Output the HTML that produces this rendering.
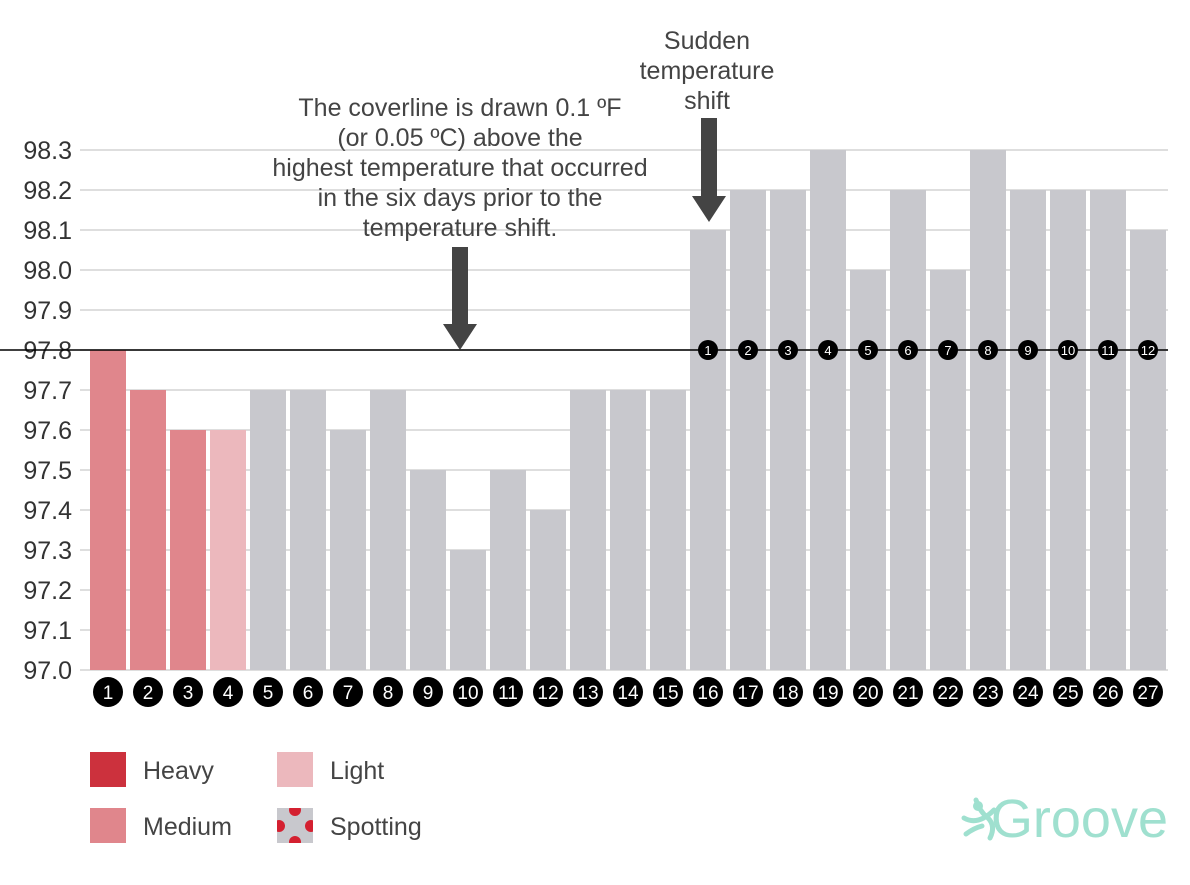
<!DOCTYPE html>
<html><head><meta charset="utf-8"><style>
body{margin:0;background:#fff;}
svg text{font-family:"Liberation Sans",sans-serif;}
</style></head><body>
<svg id="c" width="1190" height="880" xmlns="http://www.w3.org/2000/svg">
<defs><clipPath id="spclip"><rect x="277" y="808" width="36" height="35"/></clipPath></defs>
</svg>
<script>
const days=[1,2,3,4,5,6,7,8,9,10,11,12,13,14,15,16,17,18,19,20,21,22,23,24,25,26,27];
const temps=[97.8,97.7,97.6,97.6,97.7,97.7,97.6,97.7,97.5,97.3,97.5,97.4,97.7,97.7,97.7,98.1,98.2,98.2,98.3,98.0,98.2,98.0,98.3,98.2,98.2,98.2,98.1];
const flow=['medium','medium','medium','light','none','none','none','none','none','none','none','none','none','none','none','none','none','none','none','none','none','none','none','none','none','none','none'];
const yTicks=[97.0,97.1,97.2,97.3,97.4,97.5,97.6,97.7,97.8,97.9,98.0,98.1,98.2,98.3];
const coverline=97.8;
const shiftDay=16;

const svg=document.getElementById('c');
const NS='http://www.w3.org/2000/svg';
function el(t,a,p){const e=document.createElementNS(NS,t);for(const k in a)e.setAttribute(k,a[k]);(p||svg).appendChild(e);return e;}
const y=v=>670-(v-97.0)*400;
const x=d=>90+(d-1)*40;
const colors={medium:'#e0868c',light:'#ecb8bd',heavy:'#cc313d',none:'#c8c8cd'};

yTicks.forEach(t=>{
  const g=el('line',{x1:80,x2:1168,y1:y(t),y2:y(t),stroke:'#dedede','stroke-width':2});
  
  
  const tx=el('text',{x:72,y:y(t)+9,'text-anchor':'end','font-size':25,fill:'#333'});
  tx.textContent=t.toFixed(1);
  
  
});

days.forEach((d,i)=>{
  const r=el('rect',{x:x(d),y:y(temps[i]),width:36,height:670-y(temps[i]),fill:colors[flow[i]]});
  
  
  const c=el('circle',{cx:x(d)+18,cy:692,r:15,fill:'#000'});
  
  
  const t=el('text',{x:x(d)+18,y:699,'text-anchor':'middle','font-size':19,fill:'#fff'});
  t.textContent=d;
  
  
});

const cl=el('line',{x1:0,x2:1168,y1:y(coverline),y2:y(coverline),stroke:'#000','stroke-width':1.5});



days.forEach((d,i)=>{
  if(d<shiftDay)return;
  const n=d-shiftDay+1;
  const c=el('circle',{cx:x(d)+18,cy:y(coverline),r:10,fill:'#000'});
  
  
  const t=el('text',{x:x(d)+18,y:y(coverline)+5,'text-anchor':'middle','font-size':13,fill:'#fff'});
  t.textContent=n;
  
  
});

function arrow(cx,top,tip,name){
  const p=el('polygon',{points:`${cx-8},${top} ${cx+8},${top} ${cx+8},${tip-26} ${cx+17},${tip-26} ${cx},${tip} ${cx-17},${tip-26} ${cx-8},${tip-26}`,fill:'#444'});
  
  
}
arrow(460,247,350,'coverline-arrow');
arrow(709,118,222,'shift-arrow');

function lines(arr,cx,y0,name){
  arr.forEach((s,i)=>{
    const t=el('text',{x:cx,y:y0+i*30,'text-anchor':'middle','font-size':25,fill:'#444'});
    t.textContent=s;
    
    
  });
}
lines(['The coverline is drawn 0.1 ºF','(or 0.05 ºC) above the','highest temperature that occurred','in the six days prior to the','temperature shift.'],460,116,'coverline-annotation');
lines(['Sudden','temperature','shift'],707,49,'shift-annotation');

const leg=[['Heavy',90,752,'#cc313d'],['Medium',90,808,'#e0868c'],['Light',277,752,'#ecb8bd'],['Spotting',277,808,'#c8c8cd']];
leg.forEach(l=>{
  const r=el('rect',{x:l[1],y:l[2],width:36,height:35,fill:l[3]});
  
  
  const t=el('text',{x:l[1]+53,y:l[2]+27,'font-size':25,fill:'#444'});
  t.textContent=l[0];
  
  
});
[[295,810],[279,826],[311,826],[295,842]].forEach(p=>{
  const c=el('circle',{cx:p[0],cy:p[1],r:6,fill:'#d42030','clip-path':'url(#spclip)'});
  
  
});

const g=el('text',{x:1168,y:837,'text-anchor':'end','font-size':54,fill:'#9fe0cf'});
g.textContent='Groove';


const f=el('path',{d:'M976 800 Q980 812 988 818 Q996 826 990 838 M964 818 Q978 826 994 810 M966 834 Q974 828 982 826',stroke:'#9fe0cf','stroke-width':5,fill:'none','stroke-linecap':'round'});


const h=el('circle',{cx:978,cy:806,r:5,fill:'#9fe0cf'});


</script>
</body></html>
